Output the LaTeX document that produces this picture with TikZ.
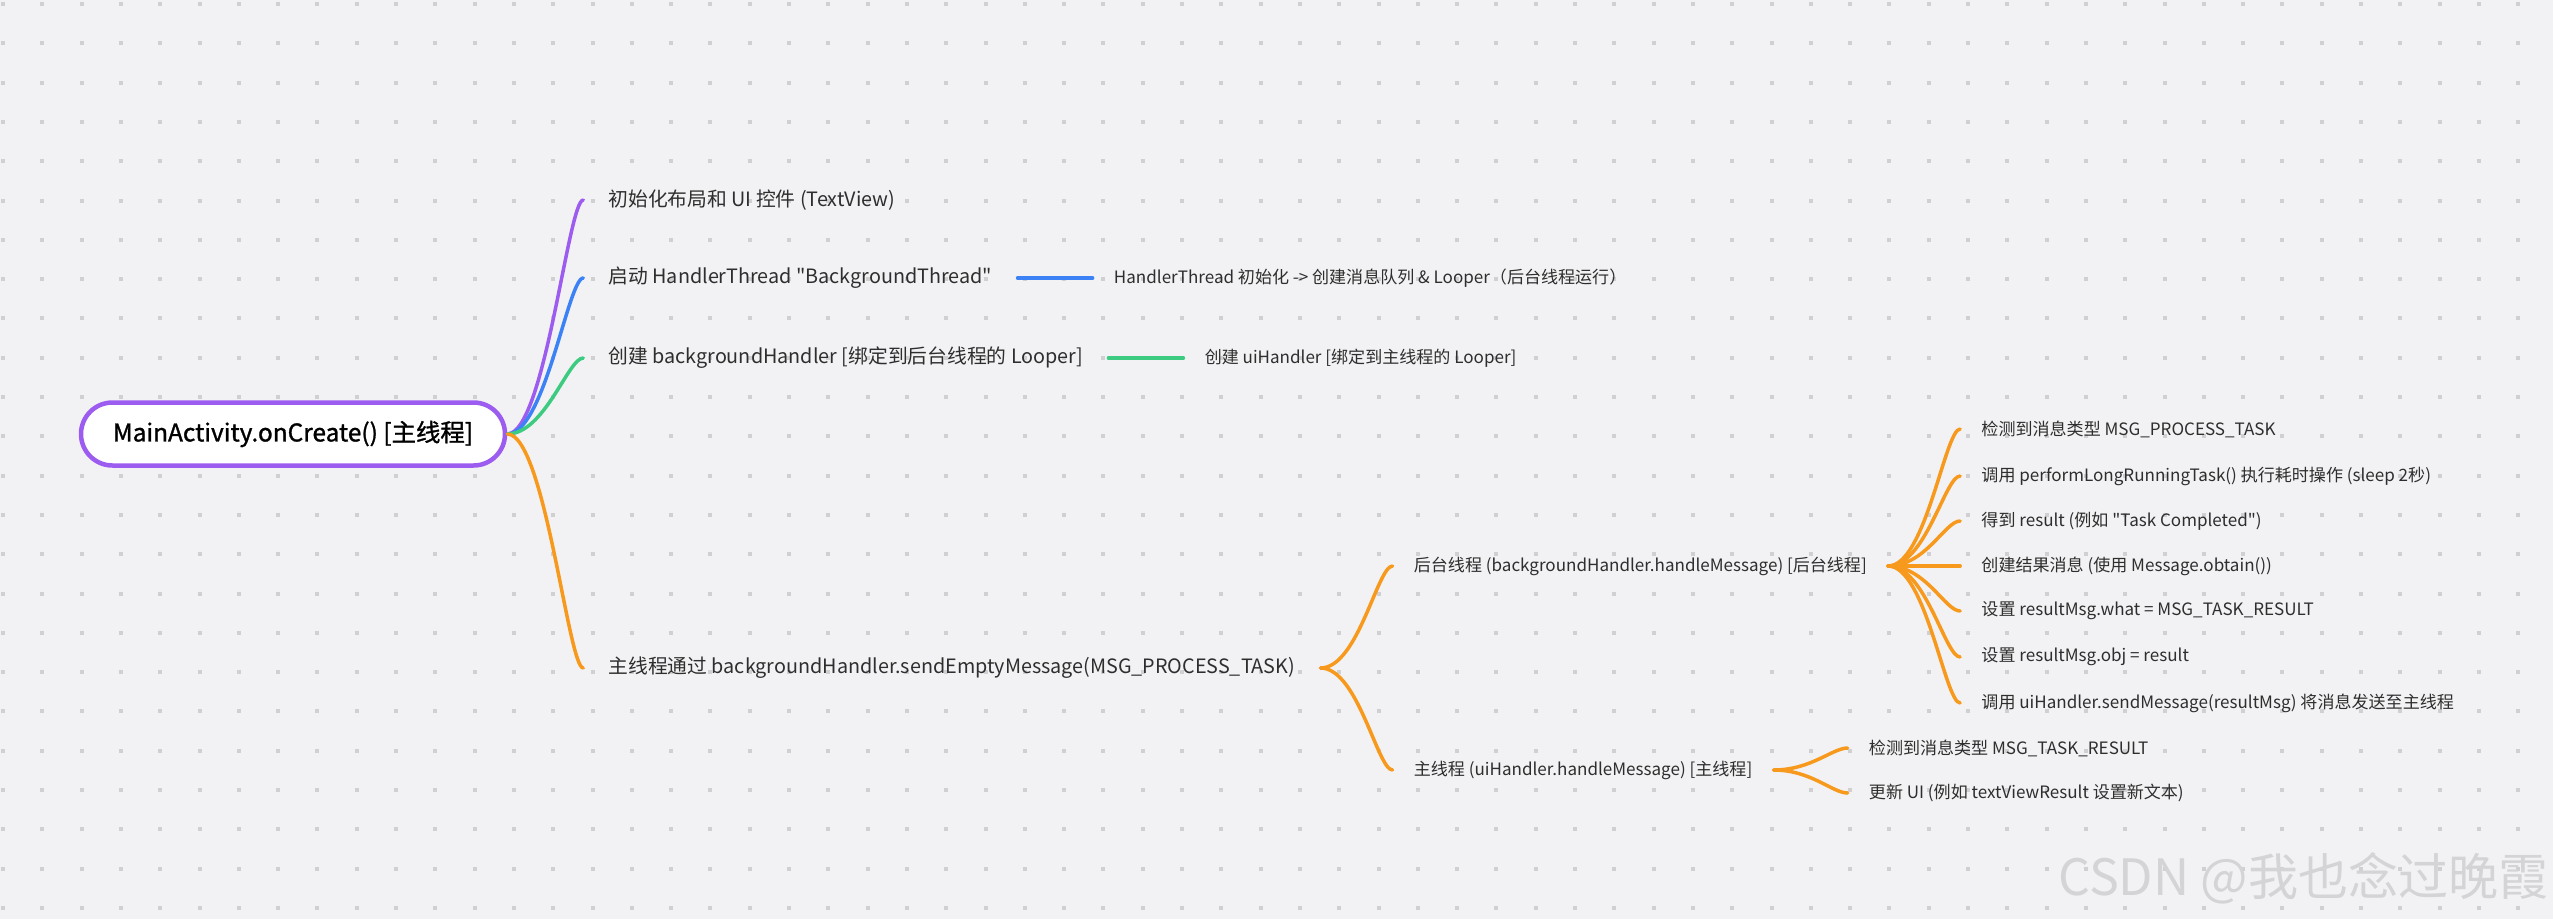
\documentclass[tikz,border=0pt]{standalone}
\usepackage{fontspec}
\setmainfont{Noto Sans CJK SC}[Ligatures=TeXOff]
\newfontfamily\rootfont{Noto Sans CJK SC}[Ligatures=TeXOff, FakeBold=1.2]
\usetikzlibrary{
  positioning,
  calc
}
\definecolor{bg_gray}{HTML}{F2F2F4}
\definecolor{dot_gray}{HTML}{D0D0D3}
\definecolor{mark_gray}{HTML}{D4D4D6}
\definecolor{txt_gray}{HTML}{2E2E2E}
\definecolor{br_purple}{HTML}{9D5CF0}
\definecolor{br_blue}{HTML}{3C82F6}
\definecolor{br_green}{HTML}{3CCB80}
\definecolor{br_orange}{HTML}{F7991C}

\begin{document}
\begin{tikzpicture}[
    % Styles
    font=\fontsize{9.7}{11}\selectfont,
    text=txt_gray,
    % Central topic
    root/.style={
        rectangle,
        draw=br_purple,
        line width=0.09cm,
        fill=white,
        rounded corners=0.63cm,
        minimum width=8.48cm,
        minimum height=1.26cm,
        text=black,
        font=\rootfont\fontsize{13.9}{16}\selectfont
    },
    topic/.style={
        anchor=west,
        inner xsep=0.5cm,
        inner ysep=0pt,
        font=\fontsize{11.25}{13}\selectfont
    },
    leaf/.style={
        anchor=west,
        inner xsep=0.42cm,
        inner ysep=0pt
    },
    % Connectors
    branch/.style={
        line width=0.07cm,
        line cap=round
    },
    twig/.style={
        to path={.. controls +(0.75,0) and +(-0.3,0) .. (\tikztotarget)}
    },
    dotrow/.style={
        dot_gray,
        line width=0.08cm,
        dash pattern=on 0.08cm off 0.706cm
    }
]

% --- CANVAS ---
\useasboundingbox (0,0) rectangle (51.06,-18.38);
\fill[bg_gray] (0,0) rectangle (51.06,-18.38);
\foreach \row in {0,...,23}
    \draw[dotrow] (0.02,{-0.08-0.786*\row}) -- (51.06,{-0.08-0.786*\row});

% --- CENTRAL TOPIC ---
\node[root] (root) at (5.86,-8.68) {MainActivity.onCreate() [主线程]};

% --- FIRST LEVEL ---
\node[topic] (initui) at ($(root.east)+(1.52,4.68)$) {初始化布局和 UI 控件 (TextView)};
\node[topic] (hthread) at ($(root.east)+(1.52,3.12)$) {启动 HandlerThread "BackgroundThread"};
\node[topic] (bghandler) at ($(root.east)+(1.52,1.52)$) {创建 backgroundHandler [绑定到后台线程的 Looper]};
\node[topic] (sendmsg) at ($(root.east)+(1.52,-4.68)$) {主线程通过 backgroundHandler.sendEmptyMessage(MSG\_PROCESS\_TASK)};

\draw[branch, br_purple] (root.east) to[twig] (initui.west);
\draw[branch, br_blue] (root.east) to[twig] (hthread.west);
\draw[branch, br_green] (root.east) to[twig] (bghandler.west);
\draw[branch, br_orange] (root.east) to[twig] (sendmsg.west);

% HandlerThread / uiHandler follow-ups
\node[leaf, right=1.5cm of hthread] (htinfo) {HandlerThread 初始化 -> 创建消息队列 \& Looper（后台线程运行）};
\draw[branch, br_blue] (hthread.east) -- (htinfo.west);

\node[leaf, right=1.5cm of bghandler] (uiinfo) {创建 uiHandler [绑定到主线程的 Looper]};
\draw[branch, br_green] (bghandler.east) -- (uiinfo.west);

% --- MESSAGE HANDLING ---
\node[leaf] (bgside) at ($(sendmsg.east)+(1.44,2.04)$) {后台线程 (backgroundHandler.handleMessage) [后台线程]};
\node[leaf] (uiside) at ($(sendmsg.east)+(1.44,-2.04)$) {主线程 (uiHandler.handleMessage) [主线程]};

\draw[branch, br_orange] (sendmsg.east) to[twig] (bgside.west);
\draw[branch, br_orange] (sendmsg.east) to[twig] (uiside.west);

% Background thread steps
\node[leaf] (detect) at ($(bgside.east)+(1.44,2.74)$) {检测到消息类型 MSG\_PROCESS\_TASK};
\node[leaf] (longtask) at ($(bgside.east)+(1.44,1.80)$) {调用 performLongRunningTask() 执行耗时操作 (sleep 2秒)};
\node[leaf] (result) at ($(bgside.east)+(1.44,0.90)$) {得到 result (例如 "Task Completed")};
\node[leaf] (obtain) at ($(bgside.east)+(1.44,0)$) {创建结果消息 (使用 Message.obtain())};
\node[leaf] (setwhat) at ($(bgside.east)+(1.44,-0.90)$) {设置 resultMsg.what = MSG\_TASK\_RESULT};
\node[leaf] (setobj) at ($(bgside.east)+(1.44,-1.82)$) {设置 resultMsg.obj = result};
\node[leaf] (sendback) at ($(bgside.east)+(1.44,-2.74)$) {调用 uiHandler.sendMessage(resultMsg) 将消息发送至主线程};

\draw[branch, br_orange] (bgside.east) to[twig] (detect.west);
\draw[branch, br_orange] (bgside.east) to[twig] (longtask.west);
\draw[branch, br_orange] (bgside.east) to[twig] (result.west);
\draw[branch, br_orange] (bgside.east) to[twig] (obtain.west);
\draw[branch, br_orange] (bgside.east) to[twig] (setwhat.west);
\draw[branch, br_orange] (bgside.east) to[twig] (setobj.west);
\draw[branch, br_orange] (bgside.east) to[twig] (sendback.west);

% Main thread steps
\node[leaf] (detectui) at ($(uiside.east)+(1.48,0.44)$) {检测到消息类型 MSG\_TASK\_RESULT};
\node[leaf] (updateui) at ($(uiside.east)+(1.48,-0.46)$) {更新 UI (例如 textViewResult 设置新文本)};

\draw[branch, br_orange] (uiside.east) to[twig] (detectui.west);
\draw[branch, br_orange] (uiside.east) to[twig] (updateui.west);

% --- WATERMARK ---
\node[anchor=base east, inner sep=0pt, text=mark_gray, font=\fontsize{28.5}{31}\selectfont] (mark) at (50.98,-17.9) {CSDN @我也念过晚霞};

\end{tikzpicture}
\end{document}
